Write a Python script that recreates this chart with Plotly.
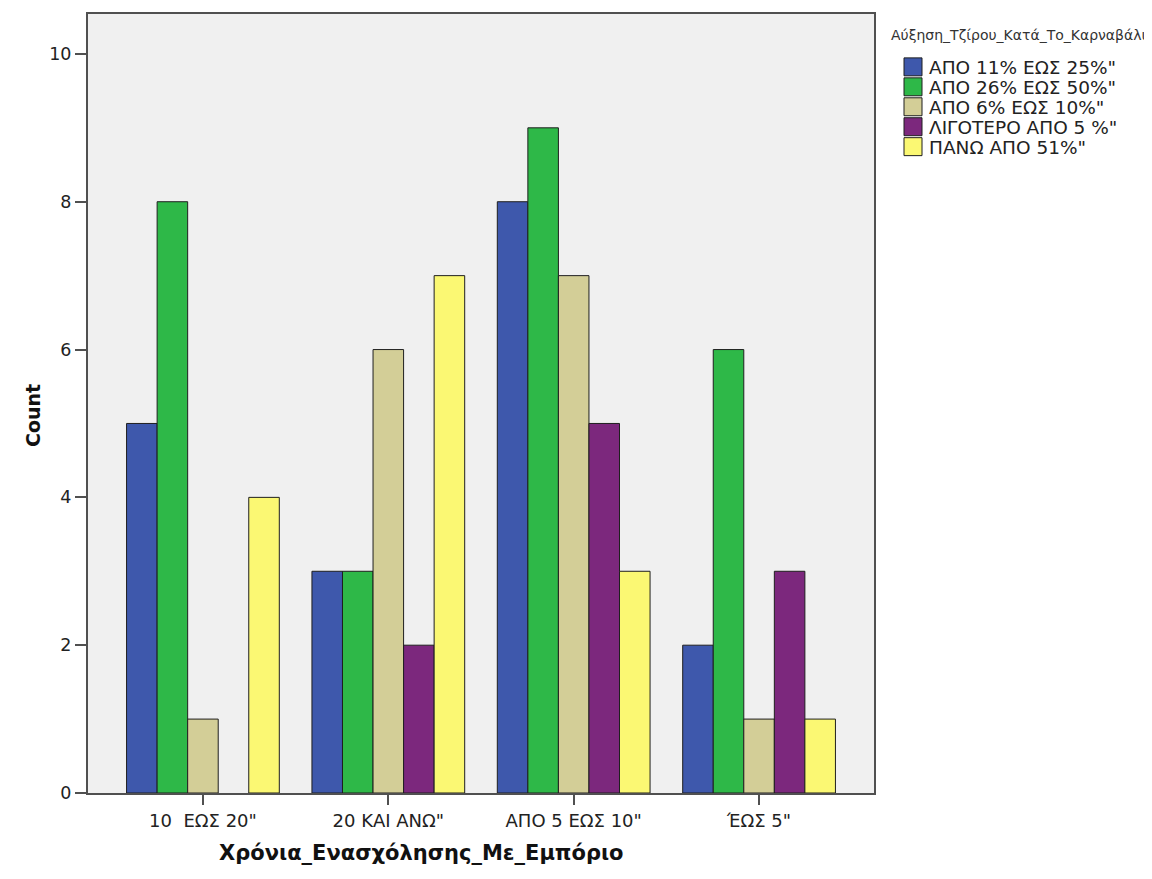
import plotly.graph_objects as go

categories = ['10  ΕΩΣ 20"', '20 ΚΑΙ ΑΝΩ"', 'ΑΠΟ 5 ΕΩΣ 10"', 'ΈΩΣ 5"']
series_names = ['ΑΠΟ 11% ΕΩΣ 25%"', 'ΑΠΟ 26% ΕΩΣ 50%"', 'ΑΠΟ 6% ΕΩΣ 10%"',
                'ΛΙΓΟΤΕΡΟ ΑΠΟ 5 %"', 'ΠΑΝΩ ΑΠΟ 51%"']
v_11_25 = [5, 3, 8, 2]
v_26_50 = [8, 3, 9, 6]
v_6_10 = [1, 6, 7, 1]
v_lt5 = [0, 2, 5, 3]
v_gt51 = [4, 7, 3, 1]
series_values = [v_11_25, v_26_50, v_6_10, v_lt5, v_gt51]
colors = ['#3E58AC', '#2EB848', '#D3CE97', '#7C287D', '#FBF873']
legend_title = 'Αύξηση_Τζίρου_Κατά_Το_Καρναβάλι'
x_title = 'Χρόνια_Ενασχόλησης_Με_Εμπόριο'
y_title = 'Count'

FONT = 'DejaVu Sans, Liberation Sans, Arial, sans-serif'

W, H = 1144, 871
L, R, T, B = 80, 278, 4, 86
PW, PH = W - L - R, H - T - B


def px_x(sx):
    # screen x (with 8px body offset) -> paper x
    return (sx - 8 - L) / PW


def px_y(sy):
    return (H - B - (sy - 8)) / PH


fig = go.Figure()
for name, vals, col in zip(series_names, series_values, colors):
    fig.add_trace(go.Bar(
        x=categories, y=vals, name=name, showlegend=False,
        marker=dict(color=col, line=dict(color='#1f1f1f',
                                         width=[0 if v == 0 else 1 for v in vals])),
    ))

shapes = []
annotations = []
# legend (drawn as shapes + text)
annotations.append(dict(
    x=px_x(889), y=px_y(33), xref='paper', yref='paper', xanchor='left', yanchor='middle',
    text=legend_title, showarrow=False, font=dict(family=FONT, size=14, color='#333')))
for i, (name, col) in enumerate(zip(series_names, colors)):
    top = 56 + 20 * i
    shapes.append(dict(type='rect', xref='paper', yref='paper',
                       x0=px_x(904), x1=px_x(922), y0=px_y(top + 18), y1=px_y(top),
                       fillcolor=col, line=dict(color='#1f1f1f', width=1)))
    annotations.append(dict(
        x=px_x(927), y=px_y(top + 9.5), xref='paper', yref='paper',
        xanchor='left', yanchor='middle', text=name, showarrow=False,
        font=dict(family=FONT, size=18.5, color='#222')))

annotations.append(dict(
    x=px_x(421), y=px_y(853), xref='paper', yref='paper', xanchor='center', yanchor='middle',
    text='<b>' + x_title + '</b>', showarrow=False,
    font=dict(family=FONT, size=21, color='#111')))
annotations.append(dict(
    x=px_x(33), y=px_y(415), xref='paper', yref='paper', xanchor='center', yanchor='middle',
    text='<b>' + y_title + '</b>', showarrow=False, textangle=-90,
    font=dict(family=FONT, size=19, color='#111')))

fig.update_layout(
    width=W, height=H,
    barmode='group', bargap=0.176, bargroupgap=0,
    plot_bgcolor='#F0F0F0', paper_bgcolor='white',
    margin=dict(l=L, r=R, t=T, b=B),
    font=dict(family=FONT, size=17, color='#222'),
    showlegend=False,
    shapes=shapes, annotations=annotations,
    xaxis=dict(
        range=[-0.62, 3.62], showgrid=False, zeroline=False,
        showline=True, linecolor='#505050', linewidth=2, mirror=True,
        ticks='outside', ticklen=10, tickcolor='#505050', tickwidth=2,
        tickfont=dict(family=FONT, size=18, color='#222'),
    ),
    yaxis=dict(
        range=[0, 10.54], tickvals=[0, 2, 4, 6, 8, 10], showgrid=False,
        zeroline=False, showline=True, linecolor='#505050', linewidth=2, mirror=True,
        ticks='outside', ticklen=11, tickcolor='#505050', tickwidth=2,
        tickfont=dict(family=FONT, size=17.5, color='#222'),
    ),
)

fig.write_html('out.html')
